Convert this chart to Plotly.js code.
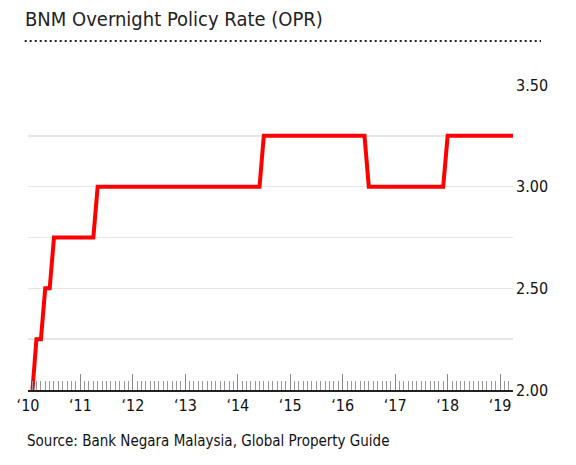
<!DOCTYPE html>
<html>
<head>
<meta charset="utf-8">
<script src="https://cdn.plot.ly/plotly-3.0.1.min.js"></script>
<style>html,body{margin:0;padding:0;background:#fff;}#chart{width:576px;height:465px;}</style>
</head>
<body>
<div id="chart"></div>
<script>
// Corner points of the OPR line (month, rate %)
var dates = ['2010-02-01','2010-03-01','2010-04-01','2010-05-01','2010-06-01','2010-07-01',
             '2011-04-01','2011-05-01','2014-06-01','2014-07-01','2016-06-01','2016-07-01',
             '2017-12-01','2018-01-01','2019-04-01'];
var rates = [2.00, 2.25, 2.25, 2.50, 2.50, 2.75,
             2.75, 3.00, 3.00, 3.25, 3.25, 3.00,
             3.00, 3.25, 3.25];
var xTickVals = ['2010-01-01','2011-01-01','2012-01-01','2013-01-01','2014-01-01',
                 '2015-01-01','2016-01-01','2017-01-01','2018-01-01','2019-01-01'];
var xTickText = ['\u201810','\u201811','\u201812','\u201813','\u201814',
                 '\u201815','\u201816','\u201817','\u201818','\u201819'];
var yTickVals = [2.00, 2.25, 2.50, 2.75, 3.00, 3.25, 3.50];
var yTickText = ['2.00', '', '2.50', '', '3.00', '', '3.50'];
var titleText = 'BNM Overnight Policy Rate (OPR)';
var sourceText = 'Source: Bank Negara Malaysia, Global Property Guide';

var FONT = '"DejaVu Sans Condensed", "DejaVu Sans", sans-serif';
var L = 28.3, R = 513, T = 85, B = 390, W = 576, H = 465;
function px(x){ return (x - L) / (R - L); }
function py(y){ return (B - y) / (B - T); }

var trace = {
  x: dates, y: rates, type: 'scatter', mode: 'lines',
  line: {color: '#ff0000', width: 4}, hoverinfo: 'skip'
};

var layout = {
  width: W, height: H,
  margin: {l: L, r: W - R, t: T, b: H - B, pad: 0},
  paper_bgcolor: '#fff', plot_bgcolor: '#fff',
  showlegend: false,
  font: {family: FONT, color: '#111'},
  title: {
    text: titleText, xref: 'container', yref: 'container',
    x: 25 / W, xanchor: 'left', y: 1 - 19 / H, yanchor: 'middle',
    font: {family: FONT, size: 20, color: '#222'}
  },
  xaxis: {
    type: 'date', range: ['2010-01-01', '2019-04-01'],
    showgrid: false, zeroline: false,
    showline: true, linecolor: '#222', linewidth: 2,
    tickmode: 'array', tickvals: xTickVals, ticktext: xTickText,
    ticks: 'inside', ticklen: 16, tickwidth: 1, tickcolor: '#888',
    tickfont: {family: FONT, size: 16, color: '#111'},
    minor: {ticks: 'inside', ticklen: 9, tickwidth: 1, tickcolor: '#999',
            tickmode: 'linear', tick0: '2010-01-01', dtick: 'M1', showgrid: false},
    fixedrange: true
  },
  yaxis: {
    range: [2, 3.5], side: 'right',
    showline: false, zeroline: false, ticks: '',
    tickmode: 'array', tickvals: yTickVals, ticktext: yTickText,
    showgrid: true, gridcolor: '#e6e6e6', gridwidth: 1.5,
    tickfont: {family: FONT, size: 16, color: '#111'},
    ticklabelstandoff: 2,
    fixedrange: true
  },
  shapes: [{
    type: 'line', xref: 'paper', yref: 'paper',
    x0: px(25), x1: px(541), y0: py(41), y1: py(41),
    line: {color: '#222', width: 2, dash: '2px,3px'}
  }],
  annotations: [{
    text: sourceText, xref: 'paper', yref: 'paper',
    x: px(25), y: py(441), xanchor: 'left', yanchor: 'middle',
    showarrow: false, font: {family: FONT, size: 15, color: '#111'}
  }]
};

Plotly.newPlot('chart', [trace], layout, {displayModeBar: false, staticPlot: true});
</script>
</body>
</html>
